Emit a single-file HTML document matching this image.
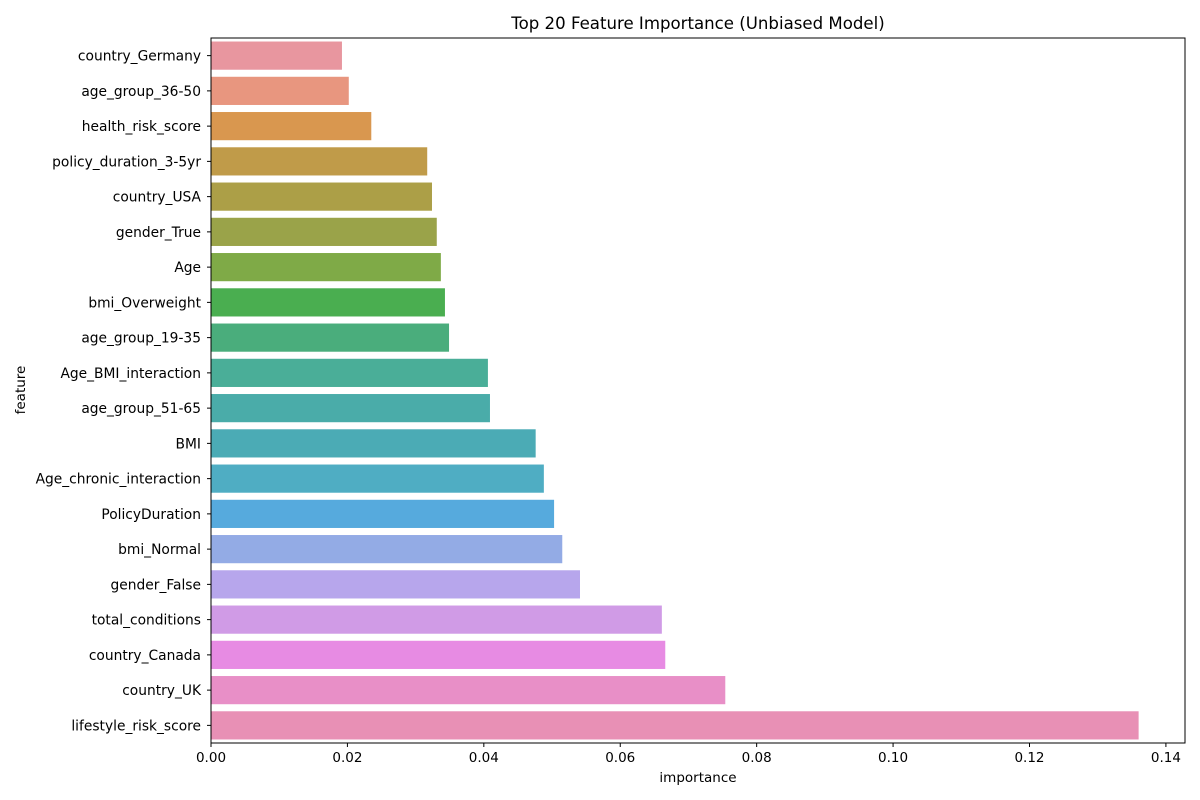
<!DOCTYPE html>
<html><head><meta charset="utf-8">
<style>
html,body{margin:0;padding:0;background:#fff;}
svg{display:block;font-family:"DejaVu Sans","Liberation Sans",sans-serif;}
</style></head>
<body>
<svg id="chart" width="1200" height="800" viewBox="0 0 1200 800" xmlns="http://www.w3.org/2000/svg">
<text x="698" y="29" font-size="16.6" text-anchor="middle" fill="#000">Top 20 Feature Importance (Unbiased Model)</text>
<text x="0" y="0" font-size="13.5" text-anchor="middle" transform="translate(25,390) rotate(-90)" fill="#000">feature</text>
<text x="698" y="782" font-size="13.5" text-anchor="middle" fill="#000">importance</text>
<g id="bars"></g>
<g id="yticks"></g>
<g id="xticks"></g>
<rect x="211" y="38" width="974" height="705" fill="none" stroke="#000" stroke-width="1"/>
</svg>
<script>
const categories = ["country_Germany","age_group_36-50","health_risk_score","policy_duration_3-5yr","country_USA","gender_True","Age","bmi_Overweight","age_group_19-35","Age_BMI_interaction","age_group_51-65","BMI","Age_chronic_interaction","PolicyDuration","bmi_Normal","gender_False","total_conditions","country_Canada","country_UK","lifestyle_risk_score"];
const importance = [0.0192,0.0202,0.0235,0.0317,0.0324,0.0331,0.0337,0.0343,0.0349,0.0406,0.0409,0.0476,0.0488,0.0503,0.0515,0.0541,0.0661,0.0666,0.0754,0.1360];
const colors = ["#e8969f","#e8967f","#d9974f","#c09b49","#ac9f47","#9aa349","#7faa47","#4aae50","#4aad7c","#4aae98","#4aaca9","#4babb5","#4fadc3","#56aadd","#93abe5","#b7a6ec","#d09be6","#e78be3","#e88fc7","#e890b5"];
const xTicks = [0,0.02,0.04,0.06,0.08,0.10,0.12,0.14];
const xTickLabels = ["0.00","0.02","0.04","0.06","0.08","0.10","0.12","0.14"];

const L=211, R=1185, T=38, B=743, XMAX=0.1428;
const xs = v => L + v/XMAX*(R-L);
const band = (B-T)/categories.length;
const NS="http://www.w3.org/2000/svg";
const bars=document.getElementById('bars'), yt=document.getElementById('yticks'), xt=document.getElementById('xticks');
categories.forEach((c,i)=>{
  const yc=T+band*(i+0.5), h=band*0.8;
  const r=document.createElementNS(NS,'rect');
  
  
  r.setAttribute('x',L); r.setAttribute('y',yc-h/2);
  r.setAttribute('width',xs(importance[i])-L); r.setAttribute('height',h);
  r.setAttribute('fill',colors[i]);
  bars.appendChild(r);
  const tk=document.createElementNS(NS,'line');
  
  
  tk.setAttribute('x1',L-4);tk.setAttribute('x2',L);tk.setAttribute('y1',yc);tk.setAttribute('y2',yc);tk.setAttribute('stroke','#000');
  yt.appendChild(tk);
  const t=document.createElementNS(NS,'text');
  
  
  t.setAttribute('x',L-10);t.setAttribute('y',yc+5);t.setAttribute('text-anchor','end');t.setAttribute('font-size','13.8');
  t.textContent=c; yt.appendChild(t);
});
xTicks.forEach((v,i)=>{
  const x=xs(v);
  const tk=document.createElementNS(NS,'line');
  
  
  tk.setAttribute('x1',x);tk.setAttribute('x2',x);tk.setAttribute('y1',B);tk.setAttribute('y2',B+4);tk.setAttribute('stroke','#000');
  xt.appendChild(tk);
  const t=document.createElementNS(NS,'text');
  
  
  t.setAttribute('x',x);t.setAttribute('y',B+19);t.setAttribute('text-anchor','middle');t.setAttribute('font-size','13.5');
  t.textContent=xTickLabels[i]; xt.appendChild(t);
});
</script>
</body></html>
